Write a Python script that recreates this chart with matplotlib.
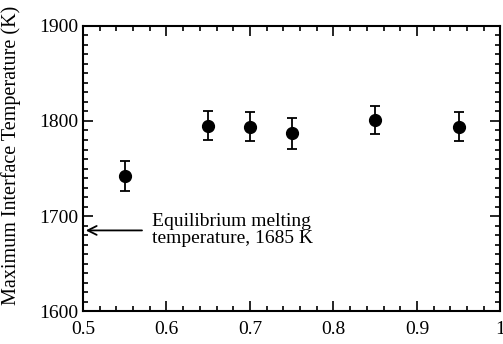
import matplotlib
matplotlib.use("Agg")
import matplotlib.pyplot as plt
from matplotlib.ticker import MultipleLocator, FuncFormatter

# data
fraction = [0.55, 0.65, 0.70, 0.75, 0.85, 0.95]
temp_max = [1742, 1795, 1794, 1787, 1801, 1794]
temp_err = [16, 15, 15, 16, 15, 15]
melt_temp = 1685

plt.rcParams['font.family'] = ['Liberation Serif', 'DejaVu Serif']

fig = plt.figure(figsize=(5.03, 3.44), dpi=100)
ax = fig.add_axes([0.165, 0.095, 0.83, 0.83])

ax.errorbar(fraction, temp_max, yerr=temp_err, fmt='o', color='black',
            markersize=8.5, capsize=3.5, elinewidth=1.3, capthick=1.3)

ax.annotate('', xy=(0.5, melt_temp), xytext=(0.574, melt_temp),
            arrowprops=dict(arrowstyle='->', color='black', lw=1.3,
                            mutation_scale=16))
ax.text(0.583, melt_temp, 'Equilibrium melting\ntemperature, 1685 K',
        fontsize=14, va='center', ha='left', linespacing=1.0)

ax.set_xlim(0.5, 1.0)
ax.set_ylim(1600, 1900)
ax.xaxis.set_major_locator(MultipleLocator(0.1))
ax.xaxis.set_minor_locator(MultipleLocator(0.02))
ax.yaxis.set_major_locator(MultipleLocator(100))
ax.yaxis.set_minor_locator(MultipleLocator(10))
ax.xaxis.set_major_formatter(FuncFormatter(lambda v, p: f"{v:g}"))

ax.tick_params(which='both', direction='in', top=True, right=True,
               labelsize=14, width=1.2)
ax.tick_params(which='major', length=7)
ax.tick_params(which='minor', length=3.5)
ax.tick_params(axis='x', which='major', pad=7)
ax.tick_params(axis='y', which='major', pad=3)
for s in ax.spines.values():
    s.set_linewidth(1.5)

ax.set_ylabel('Maximum Interface Temperature (K)', fontsize=14.5)
ax.yaxis.set_label_coords(-0.148, 0.545)

fig.savefig('out.png', dpi=100)
